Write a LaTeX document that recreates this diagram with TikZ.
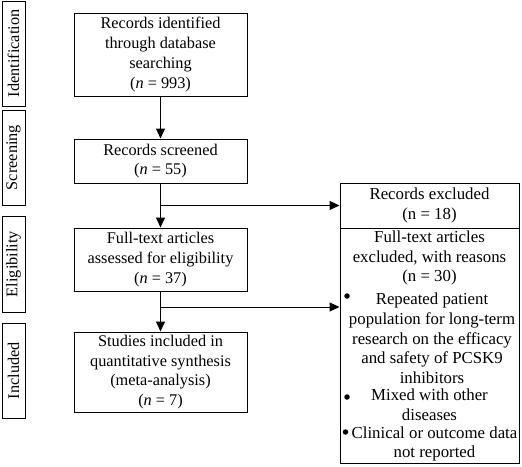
\documentclass[tikz,border=0pt]{standalone}
\usepackage{fontspec}
\setmainfont{Liberation Serif}
\usetikzlibrary{arrows.meta,calc}
\begin{document}
\begin{tikzpicture}[x=1pt,y=-1pt,
  txt/.style={font=\fontsize{16.3}{19.7}\selectfont, align=center, inner sep=0pt},
  rtxt/.style={font=\fontsize{16.8}{19.7}\selectfont, align=center, inner sep=0pt},
  mainbox/.style={draw, line width=1pt, minimum width=173pt, txt},
  sidebox/.style={draw, line width=1pt, rotate=90, minimum height=23pt, txt},
  arr/.style={line width=1pt, -{Triangle[length=10pt,width=9pt]}},
  conn/.style={line width=1pt},
  bul/.style={fill, circle, inner sep=0pt, minimum size=5.5pt}]
\useasboundingbox (0,0) rectangle (522,466);
% phase labels
\node[sidebox, minimum width=105pt] (sid) at (13.5,53.5) {Identification};
\node[sidebox, minimum width=95pt] (sscr) at (13.5,157.5) {Screening};
\node[sidebox, minimum width=96pt] (selig) at (13.5,264) {Eligibility};
\node[sidebox, minimum width=95pt] (sinc) at (13.5,370.5) {Included};
% main boxes
\node[mainbox, minimum height=83pt] (id) at (160.5,54.5) {Records identified\\through database\\searching\\(\textit{n} = 993)};
\node[mainbox, minimum height=44pt] (scr) at (160.5,161) {Records screened\\(\textit{n} = 55)};
\node[mainbox, minimum height=63pt] (elig) at (160.5,259.5) {Full-text articles\\assessed for eligibility\\(\textit{n} = 37)};
\node[mainbox, minimum height=80pt] (inc) at (160.5,372) {Studies included in\\quantitative synthesis\\(meta-analysis)\\(\textit{n} = 7)};
% exclusion boxes
\node[draw, line width=1pt, minimum width=179pt, minimum height=45pt, rtxt] (exa) at (429.5,205.5) {Records excluded\\(n = 18)};
\node[draw, line width=1pt, minimum width=179pt, minimum height=235pt, inner sep=0pt] (exb) at (429.5,345.5) {};
\node[rtxt] (exbh) at (429.5,258) {Full-text articles\\excluded, with reasons\\(n = 30)};
\node[rtxt] (r1) at (432,338.5) {Repeated patient\\population for long-term\\research on the efficacy\\and safety of PCSK9\\inhibitors};
\node[rtxt] (r2) at (429.5,405) {Mixed with other\\diseases};
\node[rtxt] (r3) at (434.5,444) {Clinical or outcome data\\not reported};
\node[bul] (b1) at (347,296) {};
\node[bul] (b2) at (347,397) {};
\node[bul] (b3) at (345.5,432) {};
% connectors
\coordinate (j1) at (160.5,205.5);
\coordinate (j2) at (160.5,307);
\draw[arr] (id.south) -- (scr.north);
\draw[arr] (scr.south) -- (elig.north);
\draw[arr] (elig.south) -- (inc.north);
\draw[arr] (j1) -- (j1 -| exa.west);
\draw[arr] (j2) -- (j2 -| exb.west);
\end{tikzpicture}
\end{document}
